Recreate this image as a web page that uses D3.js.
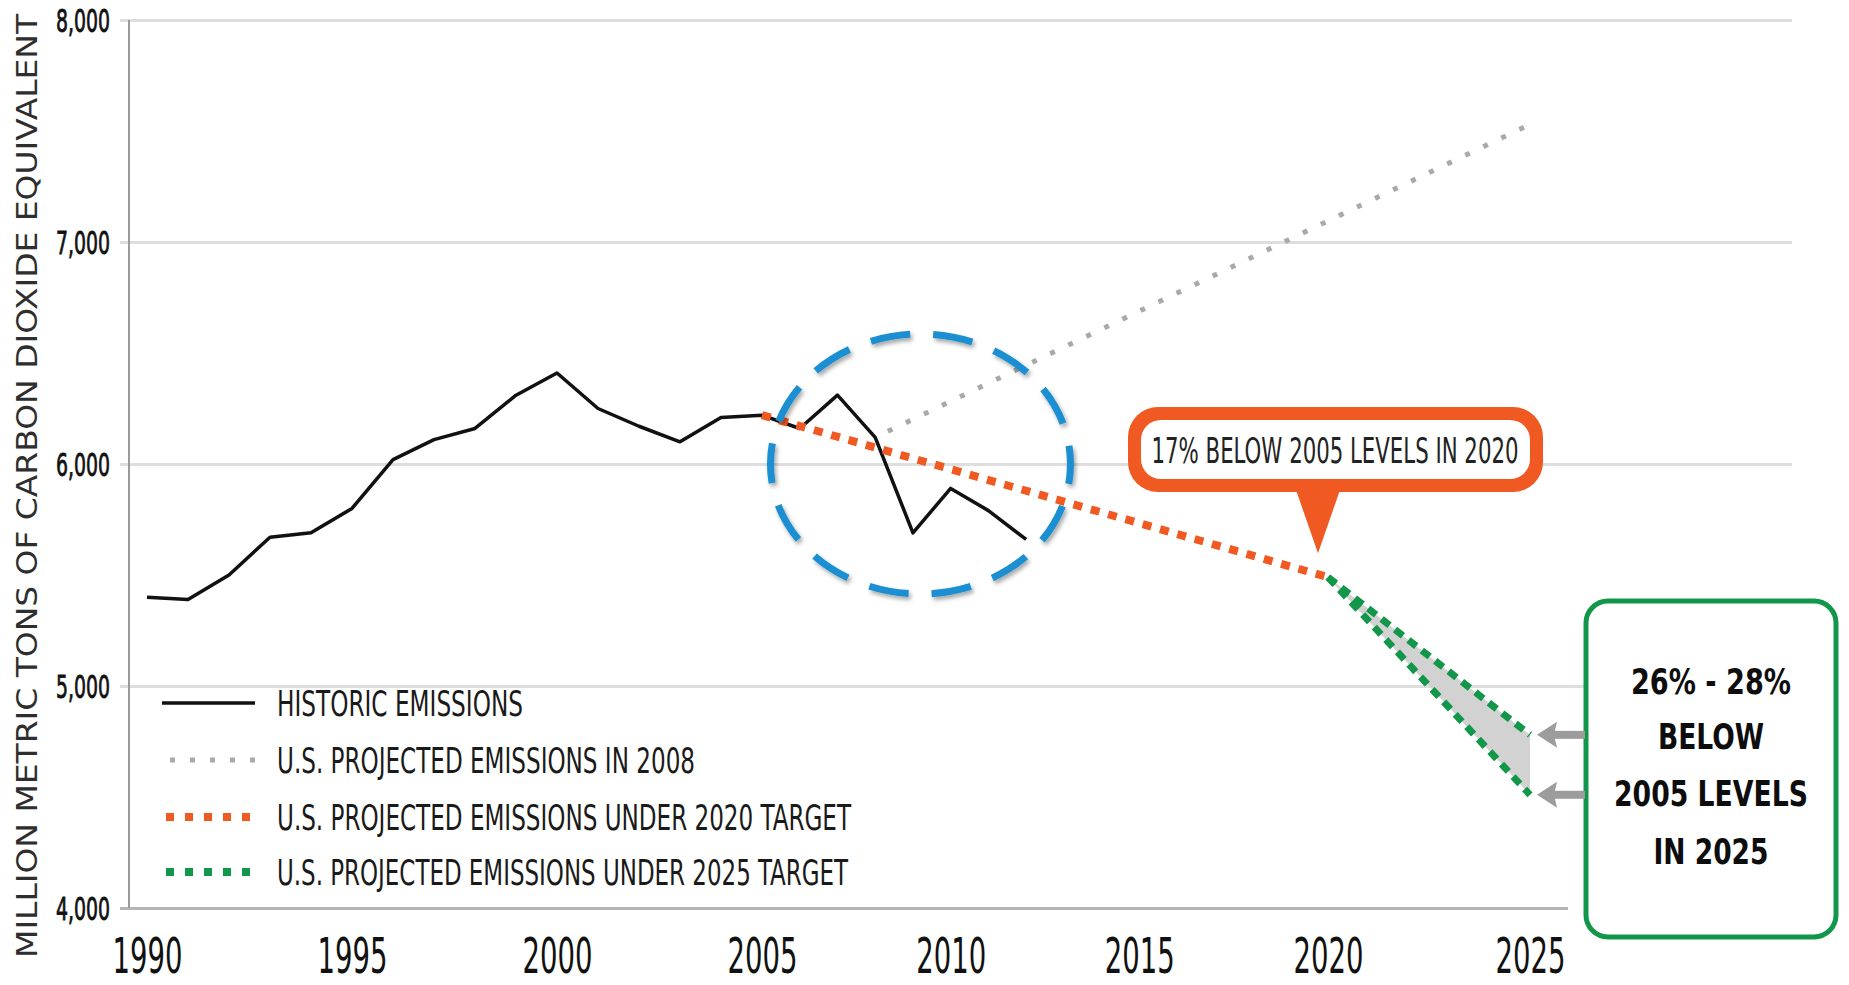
<!DOCTYPE html>
<html>
<head>
<meta charset="utf-8">
<script src="https://cdn.jsdelivr.net/npm/d3@7"></script>
<style>
  body { margin: 0; background: #fff; }
  svg { display: block; }
</style>
</head>
<body>
<script>
// data (million metric tons CO2e)
const histYears = [1990, 1991, 1992, 1993, 1994, 1995, 1996, 1997, 1998, 1999, 2000, 2001,
  2002, 2003, 2004, 2005, 2006, 2007, 2008, 2009, 2010, 2011, 2012];
const histValues = [5400, 5390, 5500, 5670, 5690, 5800, 6020, 6110, 6160, 6310, 6410, 6250,
  6170, 6100, 6210, 6220, 6160, 6310, 6120, 5690, 5890, 5790, 5660];

const proj2008Years = [2008, 2025];
const proj2008Values = [6120, 7530];

const target2020Years = [2005, 2020];
const target2020Values = [6220, 5490];

const target2025Years = [2020, 2025];
const target2025High = [5490, 4780];
const target2025Low = [5490, 4510];

const xTicks = [1990, 1995, 2000, 2005, 2010, 2015, 2020, 2025];
const yTicks = [4000, 5000, 6000, 7000, 8000];

const legendLabels = [
  'HISTORIC EMISSIONS',
  'U.S. PROJECTED EMISSIONS IN 2008',
  'U.S. PROJECTED EMISSIONS UNDER 2020 TARGET',
  'U.S. PROJECTED EMISSIONS UNDER 2025 TARGET'
];

const yTitle = 'MILLION METRIC TONS OF CARBON DIOXIDE EQUIVALENT';
const note2020 = '17% BELOW 2005 LEVELS IN 2020';
const note2025 = ['26% - 28%', 'BELOW', '2005 LEVELS', 'IN 2025'];

const width = 1849;
const height = 985;
const narrow = "'Liberation Sans Narrow', 'DejaVu Sans Condensed', 'Liberation Sans', sans-serif";

const orange = '#f05a22';
const green = '#12974a';
const grey = '#a9a9a9';
const blue = '#1a8fd2';

let svg = d3.select('body')
  .append('svg')
  .attr('width', width)
  .attr('height', height);

let defs = svg.append('defs');
defs.append('filter')
  .attr('id', 'shadow')
  .attr('x', '-20%').attr('y', '-20%')
  .attr('width', '140%').attr('height', '140%')
  .append('feDropShadow')
  .attr('dx', 2).attr('dy', 3)
  .attr('stdDeviation', 2)
  .attr('flood-color', '#000')
  .attr('flood-opacity', 0.35);

// the original chart spaces the years a bit unevenly
let x = d3.scaleLinear()
  .domain([1990, 2005, 2020, 2025])
  .range([147, 762, 1328, 1530]);

let y = d3.scaleLinear()
  .domain([4000, 8000])
  .range([908, 20]);

// grid + y ticks
let yAxis = svg.append('g')
  .attr('transform', 'translate(120,0)')
  .call(d3.axisLeft(y).tickValues(yTicks).tickSize(-1672).tickPadding(10).tickFormat(d3.format(',')));

yAxis.select('.domain').remove();
yAxis.selectAll('.tick line')
  .attr('stroke', '#dedede')
  .attr('stroke-width', 3);
yAxis.selectAll('.tick')
  .filter(d => d === 4000)
  .select('line')
  .attr('x2', 1448)
  .attr('stroke', '#b4b4b4');
yAxis.selectAll('.tick text')
  .attr('font-family', narrow)
  .attr('font-size', 32)
  .attr('dy', '0.36em')
  .attr('fill', '#111')
  .attr('stroke', '#111')
  .attr('stroke-width', 0.8)
  .attr('textLength', 54)
  .attr('lengthAdjust', 'spacingAndGlyphs');

svg.append('line')
  .attr('x1', 129).attr('x2', 129)
  .attr('y1', y(8000)).attr('y2', y(4000))
  .attr('stroke', '#9a9a9a')
  .attr('stroke-width', 2);

// x ticks
let xAxis = svg.append('g')
  .attr('transform', `translate(0,${y(4000)})`)
  .call(d3.axisBottom(x).tickValues(xTicks).tickSize(0).tickPadding(29).tickFormat(d3.format('d')));

xAxis.select('.domain').remove();
xAxis.selectAll('.tick text')
  .attr('font-family', narrow)
  .attr('font-size', 50)
  .attr('fill', '#111')
  .attr('textLength', 70)
  .attr('lengthAdjust', 'spacingAndGlyphs');

// y title
svg.append('text')
  .attr('transform', `translate(27,486) rotate(-90)`)
  .attr('text-anchor', 'middle')
  .attr('dy', '0.36em')
  .attr('font-family', "'DejaVu Sans', sans-serif")
  .attr('font-size', 28)
  .attr('fill', '#2e2e2e')
  .attr('textLength', 944)
  .attr('lengthAdjust', 'spacingAndGlyphs')
  .text(yTitle);

let line = d3.line()
  .x(d => x(d[0]))
  .y(d => y(d[1]));

// grey band between the two 2025 targets
let band = target2025Years.map((yr, i) => [yr, target2025Low[i], target2025High[i]]);
svg.append('path')
  .datum(band)
  .attr('fill', '#d2d2d2')
  .attr('d', d3.area().x(d => x(d[0])).y0(d => y(d[1])).y1(d => y(d[2])));

// projected 2008
svg.append('path')
  .datum(d3.zip(proj2008Years, proj2008Values))
  .attr('fill', 'none')
  .attr('stroke', grey)
  .attr('stroke-width', 5)
  .attr('stroke-dasharray', '5 15')
  .attr('stroke-dashoffset', -14)
  .attr('d', line);

// historic
svg.append('path')
  .datum(d3.zip(histYears, histValues))
  .attr('fill', 'none')
  .attr('stroke', '#111')
  .attr('stroke-width', 3.5)
  .attr('stroke-linejoin', 'round')
  .attr('d', line);

// 2020 target
svg.append('path')
  .datum(d3.zip(target2020Years, target2020Values))
  .attr('fill', 'none')
  .attr('stroke', orange)
  .attr('stroke-width', 8)
  .attr('stroke-dasharray', '9 9')
  .attr('d', line);

// 2025 targets
;[target2025High, target2025Low].forEach(vals => {
  svg.append('path')
    .datum(d3.zip(target2025Years, vals))
    .attr('fill', 'none')
    .attr('stroke', green)
    .attr('stroke-width', 7)
    .attr('stroke-dasharray', '10 7')
    .attr('d', line);
});

// dashed blue ellipse around the recent drop
svg.append('ellipse')
  .attr('cx', x(2009.2))
  .attr('cy', y(6000))
  .attr('rx', 150)
  .attr('ry', 130)
  .attr('fill', 'none')
  .attr('stroke', blue)
  .attr('stroke-width', 7)
  .attr('stroke-dasharray', '40 23')
  .attr('stroke-dashoffset', 20)
  .attr('filter', 'url(#shadow)');

// 2020 callout
let c20 = svg.append('g');
let tipX = x(2020) - 10;
let tipY = y(5490) - 24;
c20.append('rect')
  .attr('x', 1128).attr('y', 407)
  .attr('width', 415).attr('height', 85)
  .attr('rx', 30)
  .attr('fill', orange);
c20.append('path')
  .attr('d', `M${tipX - 22},490 L${tipX + 22},490 L${tipX},${tipY} Z`)
  .attr('fill', orange);
c20.append('rect')
  .attr('x', 1141).attr('y', 420)
  .attr('width', 389).attr('height', 59)
  .attr('rx', 20)
  .attr('fill', '#fff');
c20.append('text')
  .attr('x', 1335).attr('y', 463)
  .attr('text-anchor', 'middle')
  .attr('font-family', narrow)
  .attr('font-size', 36)
  .attr('fill', '#222')
  .attr('textLength', 367)
  .attr('lengthAdjust', 'spacingAndGlyphs')
  .text(note2020);

// 2025 callout box
let c25 = svg.append('g');
c25.append('rect')
  .attr('x', 1586).attr('y', 601)
  .attr('width', 250).attr('height', 336)
  .attr('rx', 22)
  .attr('fill', '#fff')
  .attr('stroke', green)
  .attr('stroke-width', 5);

let boxWidths = [160, 106, 194, 115];
let boxBase = [694, 749, 806, 864];
note2025.forEach((t, i) => {
  c25.append('text')
    .attr('x', 1711).attr('y', boxBase[i])
    .attr('text-anchor', 'middle')
    .attr('font-family', narrow)
    .attr('font-weight', 'bold')
    .attr('font-size', 36)
    .attr('fill', '#0d0d0d')
    .attr('textLength', boxWidths[i])
    .attr('lengthAdjust', 'spacingAndGlyphs')
    .text(t);
});

// arrows from the box to the two 2025 ends
;[target2025High[1], target2025Low[1]].forEach(v => {
  let ay = y(v);
  let ax = x(2025) + 7;
  c25.append('rect')
    .attr('x', ax + 15).attr('y', ay - 4)
    .attr('width', 1585 - ax - 15).attr('height', 8)
    .attr('fill', '#9c9c9c');
  c25.append('path')
    .attr('d', `M${ax},${ay} L${ax + 20},${ay - 13} L${ax + 17},${ay} L${ax + 20},${ay + 13} Z`)
    .attr('fill', '#9c9c9c');
});

// legend
let legend = svg.append('g');
let rowY = [703, 760, 817, 872];
let legendWidths = [246, 418, 574, 571];
let sampleStyle = [
  { stroke: '#111', w: 3.5, dash: null, x1: 162 },
  { stroke: grey, w: 5, dash: '5 15', x1: 170 },
  { stroke: orange, w: 8, dash: '8 11', x1: 166 },
  { stroke: green, w: 8, dash: '8 11', x1: 166 }
];
legendLabels.forEach((label, i) => {
  let s = sampleStyle[i];
  legend.append('line')
    .attr('x1', s.x1).attr('x2', 255)
    .attr('y1', rowY[i]).attr('y2', rowY[i])
    .attr('stroke', s.stroke)
    .attr('stroke-width', s.w)
    .attr('stroke-dasharray', s.dash);
  legend.append('text')
    .attr('x', 277).attr('y', rowY[i] + 13)
    .attr('font-family', narrow)
    .attr('font-size', 36)
    .attr('fill', '#1a1a1a')
    .attr('textLength', legendWidths[i])
    .attr('lengthAdjust', 'spacingAndGlyphs')
    .text(label);
});
</script>
</body>
</html>
